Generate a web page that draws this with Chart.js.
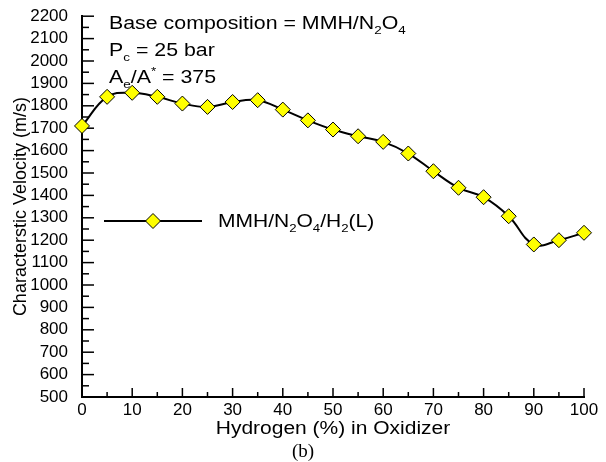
<!DOCTYPE html>
<html>
<head>
<meta charset="utf-8">
<script src="https://cdn.jsdelivr.net/npm/chart.js@4/dist/chart.umd.min.js"></script>
<style>
    body { margin: 0; background: #fff; }
    #wrap { width: 606px; height: 462px; }
</style>
</head>
<body>
<div id="wrap"><canvas id="chart" width="606" height="462"></canvas></div>
<script>
// values
const hydrogenPct = [0, 5, 10, 15, 20, 25, 30, 35, 40, 45, 50, 55, 60, 65, 70, 75, 80, 85, 90, 95, 100];
const charVelocity = [1710, 1840, 1858, 1840, 1810, 1795, 1817, 1825, 1783, 1735, 1694, 1664, 1639, 1587, 1508, 1434, 1392, 1307, 1181, 1200, 1233];
const xLimits = [0, 100];
const yLimits = [500, 2200];
const seriesLabel = [['MMH/N', 'n'], ['2', 'sub'], ['O', 'n'], ['4', 'sub'], ['/H', 'n'], ['2', 'sub'], ['(L)', 'n']];
const noteLines = [
    [['Base composition = MMH/N', 'n'], ['2', 'sub'], ['O', 'n'], ['4', 'sub']],
    [['P', 'n'], ['c', 'sub'], [' = 25 bar', 'n']],
    [['A', 'n'], ['e', 'sub'], ['/A', 'n'], ['*', 'sup'], [' = 375', 'n']]
];
const xTitle = 'Hydrogen (%) in Oxidizer';
const yTitle = 'Characterstic Velocity (m/s)';
const panelTag = '(b)';

const FONT = '"Liberation Sans", Arial, sans-serif';

const drawRich = (ctx, parts, x, y, size, sx) => {
    ctx.save();
    ctx.translate(x, y);
    ctx.scale(sx, 1);
    ctx.textBaseline = 'alphabetic';
    ctx.textAlign = 'left';
    let cx = 0;
    parts.forEach(([txt, kind]) => {
        const s = kind === 'n' ? size : Math.round(size * 0.65);
        const dy = kind === 'sub' ? size * 0.3 : kind === 'sup' ? -size * 0.45 : 0;
        ctx.font = `${s}px ${FONT}`;
        ctx.fillText(txt, cx, dy);
        cx += ctx.measureText(txt).width;
    });
    ctx.restore();
};

const tickMarks = {
    id: 'tickMarks',
    beforeDatasetsDraw(chart) {
        const { ctx, chartArea, scales } = chart;
        ctx.save();
        ctx.strokeStyle = '#000';
        ctx.lineWidth = 1.5;
        scales.y.ticks.forEach(t => {
            const py = scales.y.getPixelForValue(t.value);
            const len = t.value % 100 === 0 ? 12 : 7;
            ctx.beginPath();
            ctx.moveTo(chartArea.left, py);
            ctx.lineTo(chartArea.left + len, py);
            ctx.stroke();
        });
        scales.x.ticks.forEach(t => {
            const px = scales.x.getPixelForValue(t.value);
            const len = t.value % 10 === 0 ? 9 : 5;
            ctx.beginPath();
            ctx.moveTo(px, chartArea.bottom);
            ctx.lineTo(px, chartArea.bottom - len);
            ctx.stroke();
        });
        ctx.restore();
    }
};

const textLayer = {
    id: 'textLayer',
    afterDraw(chart) {
        const { ctx, chartArea } = chart;
        const ds = chart.data.datasets[0];
        ctx.save();
        ctx.fillStyle = '#000';

        // notes in the top-left corner
        noteLines.forEach((parts, i) => drawRich(ctx, parts, 109, 29 + i * 27, 17.5, 1.22));

        // legend sample
        const ly = 221;
        ctx.strokeStyle = ds.borderColor;
        ctx.lineWidth = ds.borderWidth;
        ctx.beginPath();
        ctx.moveTo(104, ly);
        ctx.lineTo(202, ly);
        ctx.stroke();
        ctx.fillStyle = ds.pointBackgroundColor;
        ctx.strokeStyle = ds.pointBorderColor;
        ctx.lineWidth = 1;
        const r = ds.pointRadius;
        ctx.beginPath();
        ctx.moveTo(153, ly - r);
        ctx.lineTo(153 + r, ly);
        ctx.lineTo(153, ly + r);
        ctx.lineTo(153 - r, ly);
        ctx.closePath();
        ctx.fill();
        ctx.stroke();
        ctx.fillStyle = '#000';
        drawRich(ctx, seriesLabel, 218, ly + 6, 17.5, 1.2);

        // axis titles
        const cxMid = (chartArea.left + chartArea.right) / 2;
        ctx.save();
        ctx.translate(cxMid, 434);
        ctx.scale(1.2, 1);
        ctx.font = `17.5px ${FONT}`;
        ctx.textAlign = 'center';
        ctx.fillText(xTitle, 0, 0);
        ctx.restore();

        ctx.save();
        ctx.translate(26, (chartArea.top + chartArea.bottom) / 2);
        ctx.rotate(-Math.PI / 2);
        ctx.font = `18px ${FONT}`;
        ctx.textAlign = 'center';
        ctx.fillText(yTitle, 0, 0);
        ctx.restore();

        ctx.font = '19px "Liberation Serif", "Times New Roman", serif';
        ctx.textAlign = 'center';
        ctx.fillText(panelTag, 303, 457);
        ctx.restore();
    }
};

const ctx = document.getElementById('chart').getContext('2d');
new Chart(ctx, {
    type: 'line',
    data: {
        datasets: [{
            label: 'MMH/N2O4/H2(L)',
            data: hydrogenPct.map((h, i) => ({ x: h, y: charVelocity[i] })),
            borderColor: '#000',
            borderWidth: 2,
            pointStyle: 'rectRot',
            pointRadius: 7.5,
            pointBackgroundColor: '#ffff00',
            pointBorderColor: '#000',
            pointBorderWidth: 1,
            tension: 0.4,
            fill: false,
            clip: false
        }]
    },
    options: {
        responsive: false,
        animation: false,
        events: [],
        layout: { padding: { top: 15, right: 22, left: 0, bottom: 0 } },
        plugins: {
            legend: { display: false },
            tooltip: { enabled: false }
        },
        scales: {
            x: {
                type: 'linear',
                min: xLimits[0],
                max: xLimits[1],
                afterFit: s => { s.height = 65; },
                grid: { display: false },
                border: { display: true, color: '#000', width: 2 },
                ticks: {
                    stepSize: 5,
                    autoSkip: false,
                    maxRotation: 0,
                    padding: -5,
                    color: '#000',
                    font: { family: FONT, size: 17 },
                    callback: v => (v % 10 === 0 ? v : '')
                }
            },
            y: {
                min: yLimits[0],
                max: yLimits[1],
                afterFit: s => { s.width = 82; },
                grid: { display: false },
                border: { display: true, color: '#000', width: 2 },
                ticks: {
                    stepSize: 50,
                    autoSkip: false,
                    padding: 6,
                    color: '#000',
                    font: { family: FONT, size: 17 },
                    callback: v => (v % 100 === 0 ? v : '')
                }
            }
        }
    },
    plugins: [tickMarks, textLayer]
});
</script>
</body>
</html>
